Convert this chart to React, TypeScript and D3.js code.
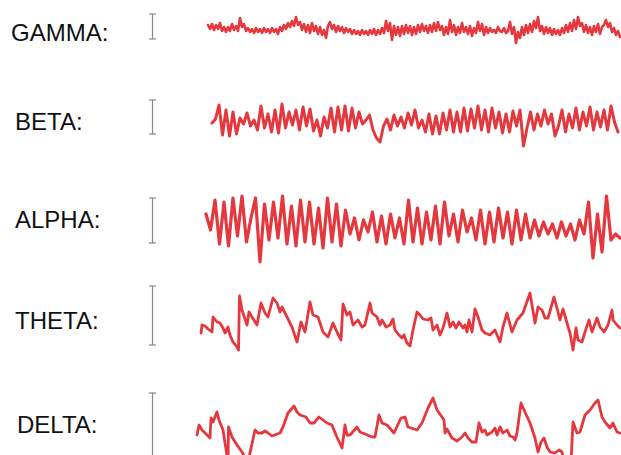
import React from 'react';
import * as d3 from 'd3';

const W = 621;
const H = 455;

// band names, top to bottom
const BANDS = ['GAMMA:', 'BETA:', 'ALPHA:', 'THETA:', 'DELTA:'];

// length of the calibration bar for each band (same units as the waves)
const SCALE_BAR = [25, 34, 45, 59, 70];

// gamma: evenly sampled, start time + step
const GAMMA_T0 = 13;
const GAMMA_DT = 2;
const GAMMA = [
  4, 0, 5, -1, 4, 0, 6, -2, 2, -3,
  2, -2, 5, -1, 3, -2, 11, 2, 5, -2,
  1, -3, 0, -4, 1, -3, 0, -4, 1, -3,
  0, -4, 1, -3, 0, -5, 2, -2, 4, 0,
  6, 2, 8, 3, 12, 4, 7, -1, 5, -3,
  4, -4, 6, -2, 3, -5, 2, -6, -1, -9,
  3, 7, 0, 4, -3, 3, -2, 2, -4, 1,
  -3, 0, -5, -1, -5, -2, -6, -1, -5, -2,
  -6, -1, -5, 0, -6, -1, -5, 1, -4, 8,
  -2, 6, -11, 3, -6, 2, -7, 3, -5, 4,
  -4, 3, -6, 2, -5, 4, -3, 5, -2, 3,
  -4, 4, -3, 6, -2, 7, -1, 3, -6, 2,
  -5, 9, -3, 4, -6, 2, -4, 6, -3, 2,
  -5, 3, -7, 1, -4, 7, -2, 5, -6, 2,
  -4, 1, -3, -1, -4, 2, -2, -3, 1, -4,
  -2, 7, -5, 2, -14, -3, -9, 2, -6, 4,
  -4, 5, -3, 8, 1, 12, -2, 3, -5, 2,
  -4, 1, -6, 0, -5, -1, -6, 1, -4, 4,
  -3, 6, -2, 9, 0, 12, 3, 6, -3, 4,
  -4, 2, -6, 3, -3, 5, -5, 2, 4, 9,
  2, 6, -3, 1, -6, -2, -8,
];

const BETA_T0 = 17;
const BETA_DT = 3.5;
const BETA = [
  -1, 3, 17, -13, 12, -14, 10, -12, 4, -2,
  9, -4, 2, -8, 16, -6, 8, -10, 12, -11,
  18, -6, 10, -3, 12, -8, 15, -4, 13, -9,
  2, -14, 5, -6, 14, -10, 15, -8, 16, -9,
  14, -6, 10, -2, 2, 7, -8, -16, -20, -4,
  3, -8, 7, -4, 5, -6, 9, -3, 12, -6,
  2, -10, 8, -12, 6, -12, 9, -8, 12, -10,
  10, -10, 14, -9, 13, -6, 16, -8, 12, -10,
  14, -6, 10, -11, 8, -10, 11, -4, 12, -24,
  -6, 10, -8, 8, -4, 12, -2, 8, -14, -4,
  12, -10, 8, -6, 14, -8, 10, -4, 15, -8,
  10, -5, 12, -8, 16, 0, -10,
];

const ALPHA_T0 = 11;
const ALPHA_DT = 4.5;
const ALPHA = [
  10, -6, 24, -20, 22, -22, 26, -12, 28, -18,
  6, 26, -38, 20, -16, 22, -14, 28, -20, 18,
  -22, 24, -18, 22, -20, 16, -24, 26, -18, 20,
  -22, 14, -10, 6, -16, 4, -8, 12, -18, 8,
  -20, 10, -14, 6, -20, 24, -18, 16, -20, 12,
  -16, 18, -20, 22, -12, 10, -18, 14, -8, 6,
  -16, 14, -20, 12, -18, 16, -14, 12, -20, 14,
  -16, 10, -14, 4, -12, 2, -10, 0, -14, 2,
  -12, 0, -16, 4, -10, 22, -34, 10, -28, 28,
  -16, -10, -14,
];

// theta and delta: traced turning points (time, value)
const THETA_T = [
  6, 7, 10, 13, 17, 18, 22, 25, 28, 30, 33, 35, 38, 42, 43.5, 44.5, 47, 52, 54, 57,
  62, 66, 70, 73, 78, 82, 85, 87, 92, 97, 102, 106, 110, 115, 118, 123, 128, 133, 138, 142,
  146, 148, 152, 155, 158, 163, 167, 170, 175, 177, 182, 185, 187, 191, 195, 198, 200, 204, 207, 209,
  212, 215, 218, 222, 225, 228, 233, 236, 238, 242, 245, 248, 252, 255, 258, 261, 264, 268, 270, 272,
  274, 277, 280, 283, 287, 290, 295, 300, 305, 308, 312, 317, 322, 328, 335, 340, 343, 347, 350, 353,
  359, 363, 365, 368, 372, 375, 378, 381, 383, 387, 390, 394, 397, 402, 405, 409, 413, 417, 418, 422, 425,
];
const THETA = [
  -12, -4, -5, -8, -11, 4, -1, -2, -7, -12, -6, -14, -21, -26, -29, 25, 11, -4, 9, 4,
  -4, 18, 8, 4, 23, 18, 9, 14, 4, -6, -21, -1, -11, 19, 6, 4, -11, -16, -2, -11,
  -19, 17, 6, 9, -4, 1, -6, -4, 18, 8, 4, -4, 1, -6, -4, 2, -9, -14, -17, -14,
  -22, -25, -9, 9, 6, 2, 1, 3, -9, -4, -14, -7, 8, -6, -1, -7, -1, -7, -4, -11,
  1, -11, 12, 4, -9, -12, -14, -9, -21, -6, 8, -11, 1, 8, 28, -2, 14, 11, 3, 3,
  24, 9, 1, 12, -2, -12, -29, -7, -19, -21, -11, 1, -11, 3, -6, -11, -4, 11, 1, -4, -7,
];

const DELTA_T = [
  2, 4, 7, 12, 15, 16, 18, 22, 24, 28, 33, 33.5, 37, 42, 47, 53, 60, 63, 67, 70,
  73, 77, 85, 88, 93, 99, 102, 105, 111, 115, 119, 124, 128, 132, 137, 141, 147, 150, 152, 155,
  162, 165, 170, 177, 180, 184, 187, 192, 199, 206, 210, 213, 222, 227, 233, 238, 242, 247, 249, 250,
  252, 257, 262, 267, 270, 273, 277, 281, 284, 287, 290, 292, 297, 300, 302, 305, 308, 312, 315, 318,
  320, 322, 326, 330, 335, 340, 343, 346, 349, 352, 355, 360, 364, 367, 369, 376, 378, 382, 385, 390,
  395, 400, 403, 407, 410, 415, 418, 422, 425,
];
const DELTA = [
  -5, 5, 0, -5, -8, 12, 8, 18, 10, 0, -32, 3, -7, -15, -22, -32, 0, -3, -3, -1,
  -3, -6, -3, 3, 17, 24, 18, 15, 13, 7, 7, 13, 10, 7, 5, -5, -18, 5, -5, -5,
  3, -2, -4, -7, -7, 15, 7, 5, -3, 12, 13, 3, 0, 7, 22, 32, 20, 13, 10, -3,
  1, -8, -11, -7, -3, -8, -12, -12, 7, -2, 0, -5, -2, 2, -5, 3, -3, 0, -6, -7,
  -10, -3, 27, 18, 7, -8, -22, -12, -8, -17, -22, -23, -20, -22, -32, -32, 8, -3, -2, 15,
  20, 27, 30, 13, 8, 2, 7, -2, -3,
];

const evenTimes = (t0: number, dt: number, n: number) => d3.range(n).map((i) => t0 + i * dt);

const WAVES = [
  { t: evenTimes(GAMMA_T0, GAMMA_DT, GAMMA.length), v: GAMMA },
  { t: evenTimes(BETA_T0, BETA_DT, BETA.length), v: BETA },
  { t: evenTimes(ALPHA_T0, ALPHA_DT, ALPHA.length), v: ALPHA },
  { t: THETA_T, v: THETA },
  { t: DELTA_T, v: DELTA },
];

// layout per row
const ROWS = [
  { labelX: 11, baseline: 40.5, barMid: 26.5, waveMid: 29, stroke: 2.6 },
  { labelX: 15, baseline: 130, barMid: 117, waveMid: 122, stroke: 3 },
  { labelX: 15, baseline: 228, barMid: 220.5, waveMid: 224, stroke: 3.2 },
  { labelX: 15, baseline: 329, barMid: 315.5, waveMid: 321, stroke: 2.8 },
  { labelX: 17, baseline: 433, barMid: 428, waveMid: 430, stroke: 2.8 },
];

const RED = '#e5383e';

export default function App() {
  const x = d3.scaleLinear().domain([0, 426]).range([195, 621]);

  return (
    <div style={{ position: 'absolute', left: 0, top: 0 }}>
      <svg width={W} height={H} style={{ display: 'block', background: '#fff' }}>
        {BANDS.map((name, i) => {
          const row = ROWS[i];
          const y = d3.scaleLinear().domain([-50, 50]).range([row.waveMid + 50, row.waveMid - 50]);
          const barY = d3.scaleLinear().domain([-50, 50]).range([row.barMid + 50, row.barMid - 50]);
          const wave = WAVES[i];
          const line = d3
            .line<number>()
            .x((_, k) => x(wave.t[k]))
            .y((d) => y(d))
            .curve(d3.curveLinear);
          const half = SCALE_BAR[i] / 2;
          return (
            <g key={name}>
              <text
                x={row.labelX}
                y={row.baseline}
                fontFamily="'Liberation Sans', Arial, sans-serif"
                fontSize={24}
                fill="#111"
              >
                {name}
              </text>
              <g stroke="#888" strokeWidth={1.2}>
                <line x1={152.5} x2={152.5} y1={barY(half)} y2={barY(-half)} />
                <line x1={149} x2={156} y1={barY(half)} y2={barY(half)} />
                <line x1={149} x2={156} y1={barY(-half)} y2={barY(-half)} />
              </g>
              <path
                d={line(wave.v) ?? ''}
                fill="none"
                stroke={RED}
                strokeWidth={row.stroke}
                strokeLinejoin="round"
                strokeLinecap="round"
              />
            </g>
          );
        })}
      </svg>
    </div>
  );
}
